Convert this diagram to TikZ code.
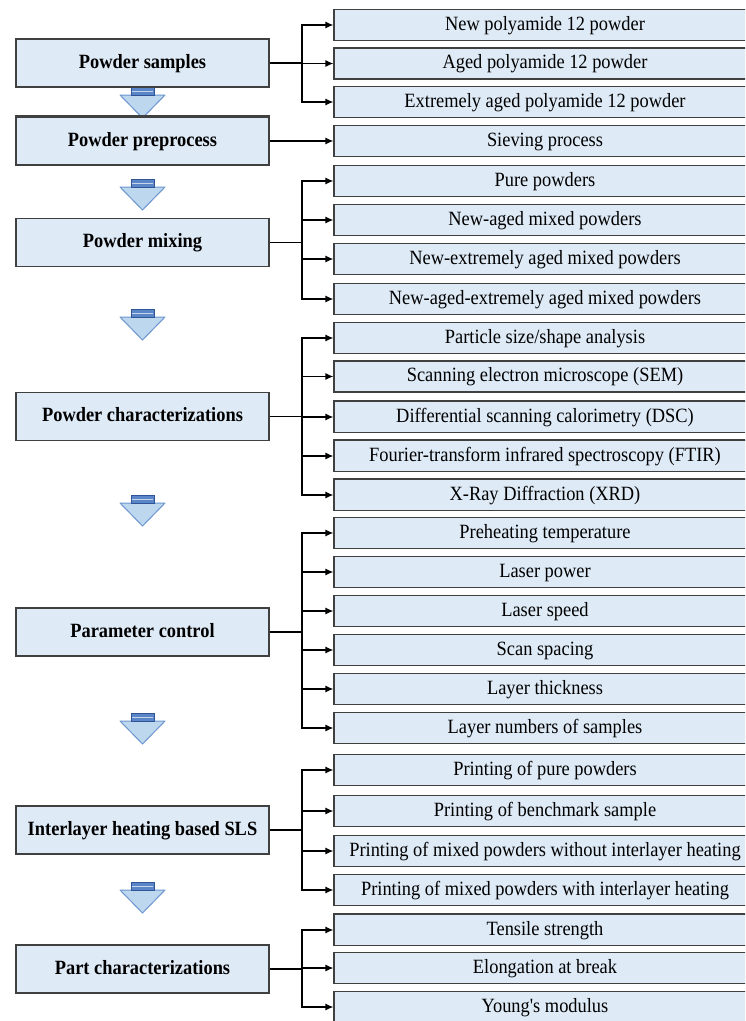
\documentclass[tikz,border=0pt]{standalone}
\usepackage{fontspec}
\setmainfont{Liberation Serif}
\newfontfamily\figfont{Liberation Serif}
\usetikzlibrary{arrows.meta}
\definecolor{boxfill}{HTML}{DEEAF6}
\definecolor{boxline}{HTML}{404040}
\definecolor{arrfill}{HTML}{BDD7EE}
\definecolor{arrline}{HTML}{6C96CF}
\definecolor{stemdark}{HTML}{2F5597}
\definecolor{stemfill}{HTML}{5A86C8}
\newcommand{\tx}[1]{\scalebox{1}[1.1]{#1}}
\begin{document}
\begin{tikzpicture}[x=1pt,y=-1pt,
  leftbox/.style={draw=boxline, fill=boxfill, line width=1.3pt, minimum width=253pt, minimum height=48pt, inner sep=0pt, text height=14.5pt, text depth=4pt, font=\figfont\fontsize{18.4}{20}\selectfont\bfseries},
  rightbox/.style={draw=boxline, fill=boxfill, line width=1.2pt, minimum width=422pt, minimum height=31pt, inner sep=0pt, text height=14pt, text depth=4pt, font=\figfont\fontsize{18.4}{20}\selectfont},
  link/.style={line width=1.2pt, black},
  tip/.style={link, -{Latex[length=8pt,width=7pt]}},
  thicktop/.style={draw=boxline, line width=2.6pt}]
\useasboundingbox (0,0) rectangle (745,1021);
\fill[white] (0,0) rectangle (745,1021);
\clip (0,0) rectangle (745,1021);

% down arrows
\foreach \t in {87,179,309,495,713,882}{
  \filldraw[fill=arrfill, draw=arrline, line width=1pt, line join=round] (120,\t+8) -- (165,\t+8) -- (142.5,\t+31) -- cycle;
  \filldraw[fill=stemfill, draw=stemdark, line width=1pt] (131,\t) rectangle (154,\t+8);
  \draw[white!65!stemfill, line width=1pt] (131.6,\t+4) -- (153.4,\t+4);
}

% left boxes
\node[leftbox] (L1) at (142.5,63) {\tx{Powder samples}};
\node[leftbox] (L2) at (142.5,141) {\tx{Powder preprocess}};
\node[leftbox] (L3) at (142.5,242.5) {\tx{Powder mixing}};
\node[leftbox] (L4) at (142.5,416.5) {\tx{Powder characterizations}};
\node[leftbox] (L5) at (142.5,632) {\tx{Parameter control}};
\node[leftbox] (L6) at (142.5,830) {\tx{Interlayer heating based SLS}};
\node[leftbox] (L7) at (142.5,969) {\tx{Part characterizations}};

% right boxes
\node[rightbox] (R1) at (545,25) {\tx{New polyamide 12 powder}};
\node[rightbox] (R2) at (545,63.5) {\tx{Aged polyamide 12 powder}};
\node[rightbox] (R3) at (545,102) {\tx{Extremely aged polyamide 12 powder}};
\node[rightbox] (R4) at (545,141) {\tx{Sieving process}};
\node[rightbox] (R5) at (545,181) {\tx{Pure powders}};
\node[rightbox] (R6) at (545,220) {\tx{New-aged mixed powders}};
\node[rightbox] (R7) at (545,259) {\tx{New-extremely aged mixed powders}};
\node[rightbox] (R8) at (545,299) {\tx{New-aged-extremely aged mixed powders}};
\node[rightbox] (R9) at (545,338) {\tx{Particle size/shape analysis}};
\node[rightbox] (R10) at (545,376.5) {\tx{Scanning electron microscope (SEM)}};
\node[rightbox] (R11) at (545,417) {\tx{Differential scanning calorimetry (DSC)}};
\node[rightbox] (R12) at (545,456) {\tx{Fourier-transform infrared spectroscopy (FTIR)}};
\node[rightbox] (R13) at (545,495) {\tx{X-Ray Diffraction (XRD)}};
\node[rightbox] (R14) at (545,533) {\tx{Preheating temperature}};
\node[rightbox] (R15) at (545,572) {\tx{Laser power}};
\node[rightbox] (R16) at (545,611) {\tx{Laser speed}};
\node[rightbox] (R17) at (545,650) {\tx{Scan spacing}};
\node[rightbox] (R18) at (545,689) {\tx{Layer thickness}};
\node[rightbox] (R19) at (545,728) {\tx{Layer numbers of samples}};
\node[rightbox] (R20) at (545,770) {\tx{Printing of pure powders}};
\node[rightbox] (R21) at (545,811) {\tx{Printing of benchmark sample}};
\node[rightbox] (R22) at (545,851) {\tx{Printing of mixed powders without interlayer heating}};
\node[rightbox] (R23) at (545,890) {\tx{Printing of mixed powders with interlayer heating}};
\node[rightbox] (R24) at (545,930) {\tx{Tensile strength}};
\node[rightbox] (R25) at (545,968) {\tx{Elongation at break}};
\node[rightbox] (R26) at (545,1007) {\tx{Young's modulus}};

% thicker top edges
\foreach \n in {L2,R11,R12,R13,R24}{
  \draw[thicktop] (\n.north west) -- (\n.north east);
}

% connectors
\coordinate (J1) at (302,63);
\draw[link] (L1.east) -- (J1);
\foreach \r in {R1,R2,R3} \draw[tip] (J1) |- (\r.west);

\draw[tip] (L2.east) -- (R4.west);

\coordinate (J3) at (302,242.5);
\draw[link] (L3.east) -- (J3);
\foreach \r in {R5,R6,R7,R8} \draw[tip] (J3) |- (\r.west);

\coordinate (J4) at (302,416.5);
\draw[link] (L4.east) -- (J4);
\foreach \r in {R9,R10,R11,R12,R13} \draw[tip] (J4) |- (\r.west);

\coordinate (J5) at (302,632);
\draw[link] (L5.east) -- (J5);
\foreach \r in {R14,R15,R16,R17,R18,R19} \draw[tip] (J5) |- (\r.west);

\coordinate (J6) at (302,830);
\draw[link] (L6.east) -- (J6);
\foreach \r in {R20,R21,R22,R23} \draw[tip] (J6) |- (\r.west);

\coordinate (J7) at (302,969);
\draw[link] (L7.east) -- (J7);
\foreach \r in {R24,R25,R26} \draw[tip] (J7) |- (\r.west);
\end{tikzpicture}
\end{document}
